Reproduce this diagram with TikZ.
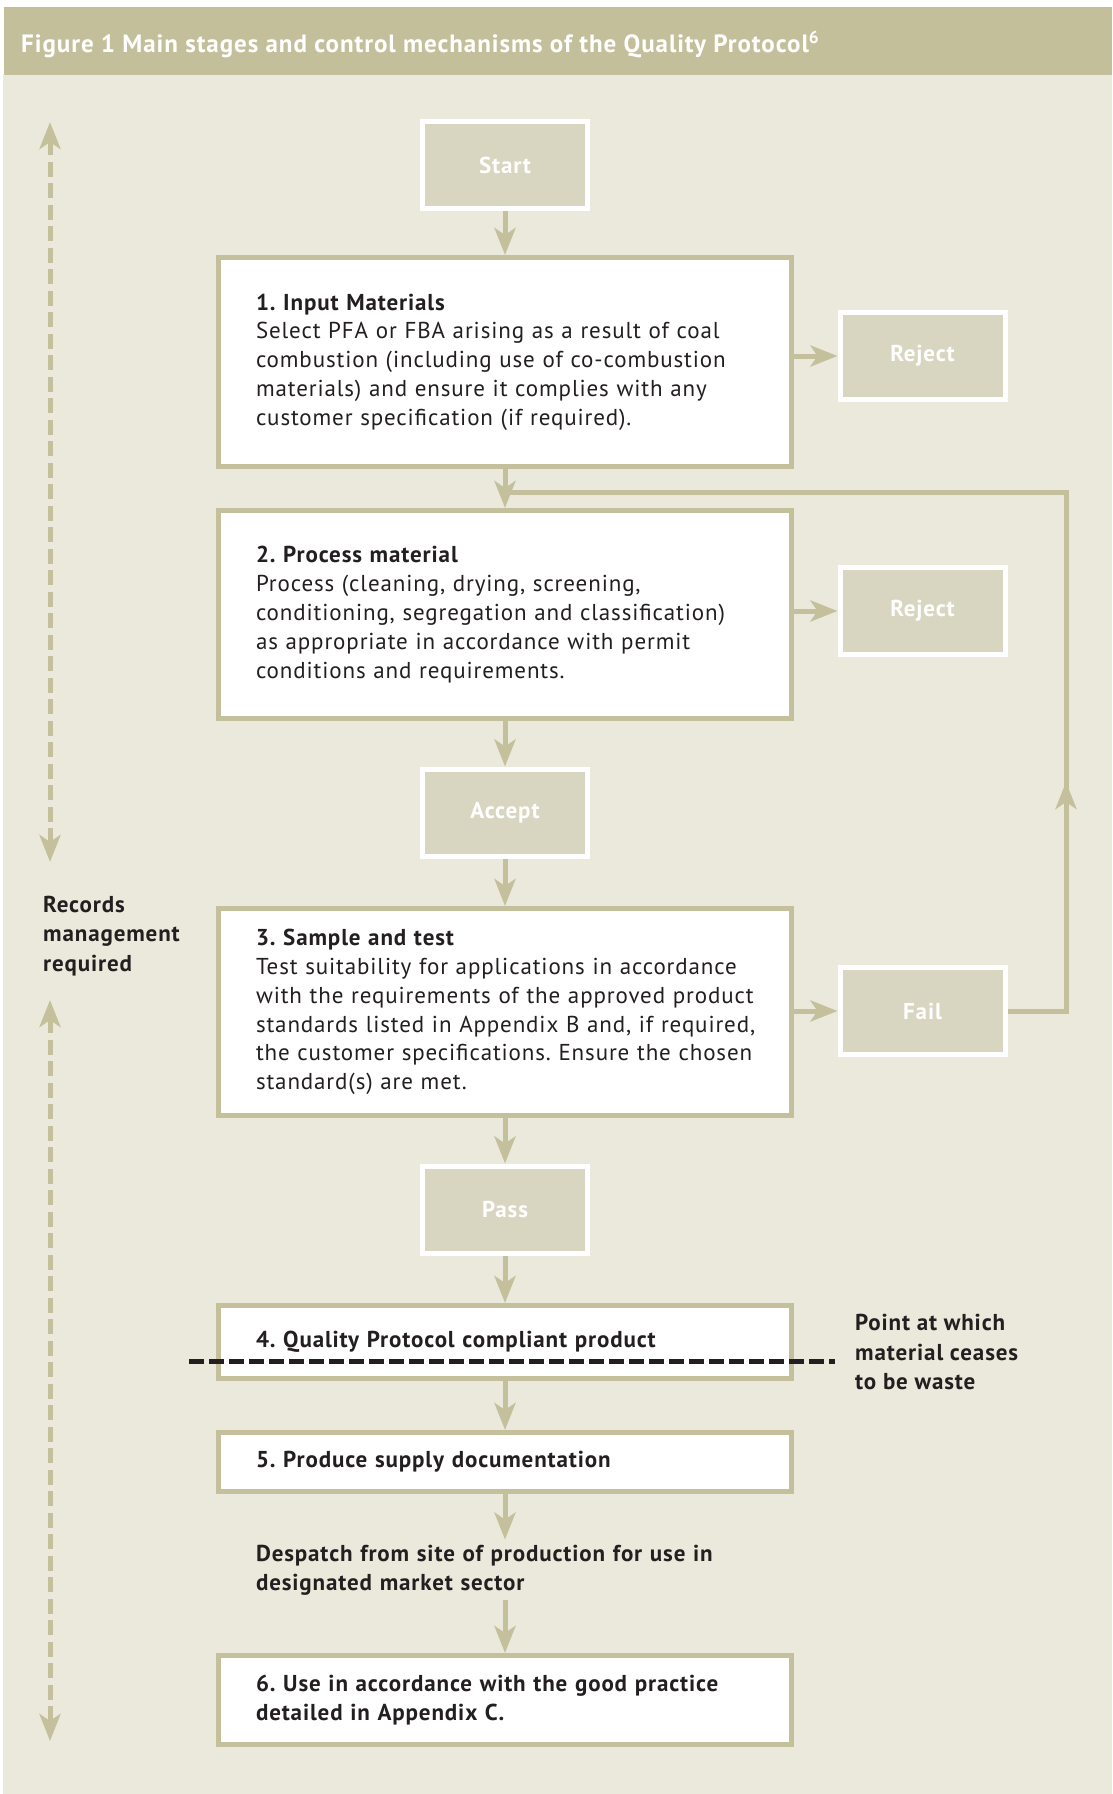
\documentclass[tikz,border=0pt]{standalone}
\usepackage{fontspec}
\setmainfont{PT Sans}[LetterSpace=3.8]
\usetikzlibrary{arrows.meta}
\definecolor{barc}{HTML}{C4BF9B}
\definecolor{bgc}{HTML}{EBE9DC}
\definecolor{cline}{HTML}{C5C09C}
\definecolor{greyfill}{HTML}{D8D6C0}
\definecolor{textc}{HTML}{231F20}
\tikzset{
  bodyfont/.style={font=\fontsize{23}{28.8}\selectfont},
  flowbox/.style={draw=cline, line width=5pt, fill=white, minimum width=573pt,
    text width=508pt, align=left, inner sep=0pt, text=textc, bodyfont},
  greybox/.style={draw=white, line width=5pt, fill=greyfill, minimum width=165pt,
    minimum height=87pt, text=white, inner sep=0pt, font=\fontsize{23}{26}\selectfont\bfseries},
  conn/.style={draw=cline, line width=5pt, -{Stealth[length=27pt,width=21pt,inset=7pt]}},
  plainline/.style={draw=cline, line width=5pt},
  recarrow/.style={draw=cline, line width=5pt, dash pattern=on 15pt off 6.5pt,
    {Stealth[length=27pt,width=21pt,inset=7pt]}-{Stealth[length=27pt,width=21pt,inset=7pt]}},
  boldtext/.style={text=textc, align=left, inner sep=0pt, font=\fontsize{23}{29.2}\selectfont\bfseries},
}
\newcommand{\boxindent}{\leftskip=5pt\relax}
\begin{document}
\frenchspacing
\begin{tikzpicture}[x=1pt,y=-1pt]
\useasboundingbox (0,0) rectangle (1112,1794);
\fill[white] (0,0) rectangle (1112,1794);
\fill[bgc] (3,75) rectangle (1112,1794);
\fill[barc] (4,7) rectangle (1112,75);
\node[anchor=west, text=white, inner sep=0pt, font=\fontsize{25}{28}\selectfont\bfseries] (title) at (21,44)
  {Figure 1 Main stages and control mechanisms of the Quality Protocol\textsuperscript{6}};

% main column
\node[greybox] (start) at (505,165) {Start};
\node[flowbox, minimum height=209pt] (box1) at (505,362)
  {\boxindent\textbf{1. Input Materials}\\
   Select PFA or FBA arising as a result of coal\\
   combustion (including use of co-combustion\\
   materials) and ensure it complies with any\\
   customer specification (if required).\par};
\node[greybox] (rej1) at (922.5,356) {Reject};
\node[flowbox, minimum height=208pt] (box2) at (505,614.5)
  {\boxindent\textbf{2. Process material}\\
   Process (cleaning, drying, screening,\\
   conditioning, segregation and classification)\\
   as appropriate in accordance with permit\\
   conditions and requirements.\par};
\node[greybox] (rej2) at (922.5,611) {Reject};
\node[greybox] (accept) at (505,812.5) {Accept};
\node[flowbox, minimum height=207pt] (box3) at (505,1012)
  {\boxindent\textbf{3. Sample and test}\\
   Test suitability for applications in accordance\\
   with the requirements of the approved product\\
   standards listed in Appendix B and, if required,\\
   the customer specifications. Ensure the chosen\\
   standard(s) are met.\par};
\node[greybox] (fail) at (922.5,1011) {Fail};
\node[greybox] (pass) at (505,1209.5) {Pass};
\node[flowbox, minimum height=73pt, font=\fontsize{23}{28.8}\selectfont\bfseries] (box4) at (505,1342)
  {\boxindent 4. Quality Protocol compliant product\par};
\node[flowbox, minimum height=59pt, font=\fontsize{23}{28.8}\selectfont\bfseries] (box5) at (505,1462)
  {\boxindent 5. Produce supply documentation\par};
\node[boldtext, text width=508pt, inner ysep=5pt] (desp) at (505,1570)
  {\boxindent Despatch from site of production for use in\\ designated market sector\par};
\node[flowbox, minimum height=89pt, font=\fontsize{23}{28.8}\selectfont\bfseries] (box6) at (505,1700)
  {\boxindent 6. Use in accordance with the good practice\\ detailed in Appendix C.\par};

% side texts
\node[boldtext, anchor=west] (records) at (43,936) {Records\\ management\\ required};
\node[boldtext, anchor=west] (point) at (855,1352) {Point at which\\ material ceases\\ to be waste};

% connectors
\draw[conn] (start.south) -- (box1.north);
\draw[conn] (box1.south) -- (box2.north);
\draw[conn] (box2.south) -- (accept.north);
\draw[conn] (accept.south) -- (box3.north);
\draw[conn] (box3.south) -- (pass.north);
\draw[conn] (pass.south) -- (box4.north);
\draw[conn] (box4.south) -- (box5.north);
\draw[conn] (box5.south) -- (desp.north);
\draw[conn] (desp.south) -- (box6.north);
\draw[conn] (box1.east |- rej1.west) -- (rej1.west);
\draw[conn] (box2.east |- rej2.west) -- (rej2.west);
\draw[conn] (box3.east |- fail.west) -- (fail.west);

% feedback loop
\coordinate (fbA) at (1066,1011);
\coordinate (fbM) at (1066,782);
\coordinate (fbB) at (1066,492);
\coordinate (fbC) at (505,492);
\draw[plainline, line join=miter] (fail.east) -- (fbA) -- (fbB) -- (fbC);
\draw[conn] (fbA) -- (fbM);

% waste line
\coordinate (wl1) at (189,1361);
\coordinate (wl2) at (835,1361);
\draw[textc, line width=5pt, dash pattern=on 15pt off 5pt] (wl1) -- (wl2);

% records arrows
\coordinate (ra1) at (50,122);
\coordinate (ra2) at (50,862);
\coordinate (ra3) at (50,1000);
\coordinate (ra4) at (50,1741);
\draw[recarrow] (ra1) -- (ra2);
\draw[recarrow] (ra3) -- (ra4);
\end{tikzpicture}
\end{document}
